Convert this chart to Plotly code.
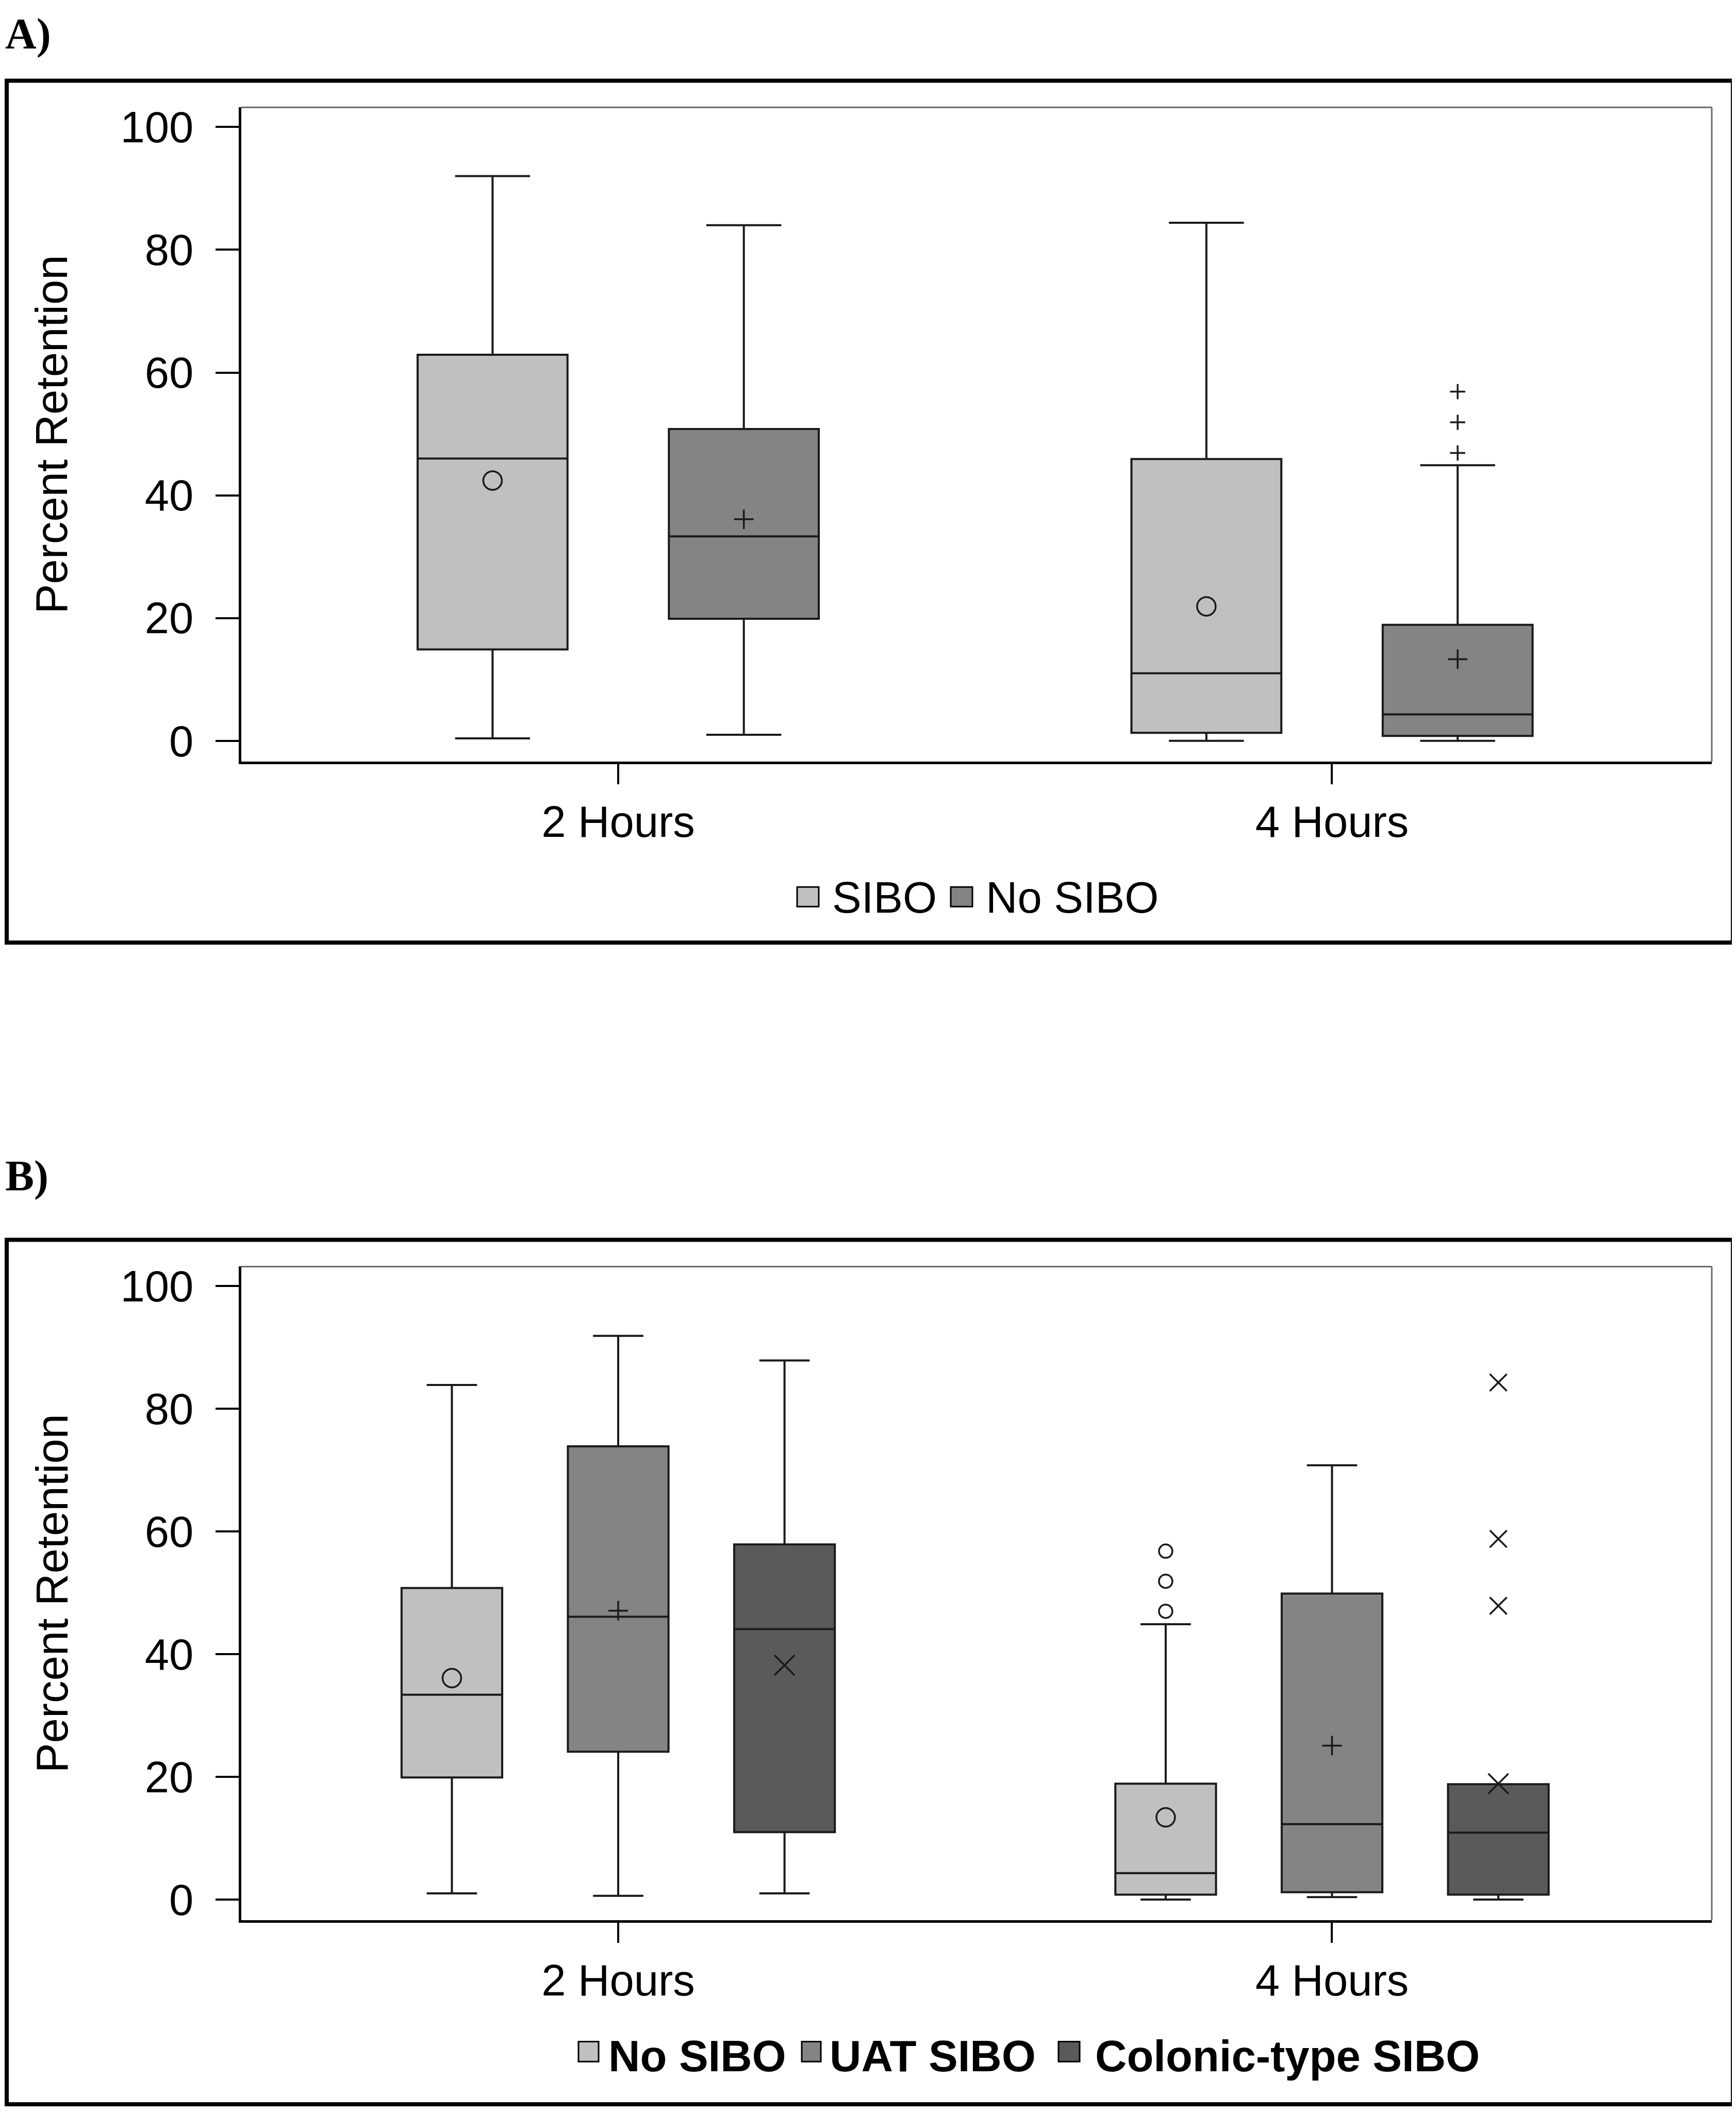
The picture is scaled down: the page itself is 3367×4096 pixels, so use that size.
import plotly.graph_objects as go

# page has the browser's default 8px body margin: shift everything by it
OFF = 8
WIN_W, WIN_H = 3367, 4096
W, H = WIN_W - OFF, WIN_H - OFF

# ---------------- data ----------------
categories = ["2 Hours", "4 Hours"]
yticks = [0, 20, 40, 60, 80, 100]

# Panel A : SIBO
A_SIBO_lower = [0.4, 0.0]
A_SIBO_q1 = [14.9, 1.3]
A_SIBO_median = [46.0, 11.0]
A_SIBO_q3 = [62.9, 45.9]
A_SIBO_upper = [92.0, 84.4]
A_SIBO_mean = [42.4, 21.9]
A_SIBO_outliers = [[], []]

# Panel A : No SIBO
A_NOSIBO_lower = [1.0, 0.0]
A_NOSIBO_q1 = [19.9, 0.8]
A_NOSIBO_median = [33.3, 4.3]
A_NOSIBO_q3 = [50.8, 18.9]
A_NOSIBO_upper = [84.0, 44.9]
A_NOSIBO_mean = [36.1, 13.3]
A_NOSIBO_outliers = [[], [56.9, 51.9, 46.9]]

# Panel B : No SIBO
B_NOSIBO_lower = [1.0, 0.0]
B_NOSIBO_q1 = [19.9, 0.8]
B_NOSIBO_median = [33.4, 4.3]
B_NOSIBO_q3 = [50.8, 18.9]
B_NOSIBO_upper = [83.9, 44.9]
B_NOSIBO_mean = [36.1, 13.4]
B_NOSIBO_outliers = [[], [56.8, 51.9, 47.0]]

# Panel B : UAT SIBO
B_UAT_lower = [0.6, 0.4]
B_UAT_q1 = [24.1, 1.2]
B_UAT_median = [46.1, 12.3]
B_UAT_q3 = [73.9, 49.9]
B_UAT_upper = [91.9, 70.8]
B_UAT_mean = [47.1, 25.1]
B_UAT_outliers = [[], []]

# Panel B : Colonic-type SIBO
B_COL_lower = [1.0, 0.0]
B_COL_q1 = [11.0, 0.8]
B_COL_median = [44.1, 10.9]
B_COL_q3 = [57.9, 18.8]
B_COL_upper = [87.9, 18.8]
B_COL_mean = [38.2, 18.9]
B_COL_outliers = [[], [84.3, 58.8, 47.9]]

# ---------------- styling ----------------
LIGHT = "#c0c0c0"
MID = "#848484"
DARK = "#5a5a5a"
LINE = "#1a1a1a"
FONT = "Arial, 'Liberation Sans', sans-serif"
SERIF = "'Liberation Serif', 'Times New Roman', serif"
FS = 85

cat_pos = [i + 1 for i in range(len(categories))]


def px_x(v):
    return (v - OFF) / W


def px_y(v):
    return 1 - (v - OFF) / H


fig = go.Figure()


def add_series(xa, ya, offset, width, fill, lower, q1, med, q3, upper, mean,
               outliers, mean_sym, mean_size, out_sym, out_size):
    xs = [p + offset for p in cat_pos]
    fig.add_trace(go.Box(
        x=xs, q1=q1, median=med, q3=q3, lowerfence=lower, upperfence=upper,
        width=width, whiskerwidth=0.5, fillcolor=fill,
        line=dict(color=LINE, width=4), boxpoints=False,
        xaxis=xa, yaxis=ya, hoverinfo="skip", showlegend=False))
    fig.add_trace(go.Scatter(
        x=xs, y=mean, mode="markers", xaxis=xa, yaxis=ya, showlegend=False,
        hoverinfo="skip",
        marker=dict(symbol=mean_sym, size=mean_size, color=LINE,
                    line=dict(color=LINE, width=3.5))))
    ox, oy = [], []
    for p, vals in zip(xs, outliers):
        for v in vals:
            ox.append(p)
            oy.append(v)
    if ox:
        fig.add_trace(go.Scatter(
            x=ox, y=oy, mode="markers", xaxis=xa, yaxis=ya, showlegend=False,
            hoverinfo="skip",
            marker=dict(symbol=out_sym, size=out_size, color=LINE,
                        line=dict(color=LINE, width=3.5))))


# Panel A
add_series("x", "y", -0.176, 0.21, LIGHT, A_SIBO_lower, A_SIBO_q1,
           A_SIBO_median, A_SIBO_q3, A_SIBO_upper, A_SIBO_mean,
           A_SIBO_outliers, "circle-open", 36, "circle-open", 26)
add_series("x", "y", 0.176, 0.21, MID, A_NOSIBO_lower, A_NOSIBO_q1,
           A_NOSIBO_median, A_NOSIBO_q3, A_NOSIBO_upper, A_NOSIBO_mean,
           A_NOSIBO_outliers, "cross-thin-open", 27, "cross-thin-open", 21)

# Panel B
add_series("x2", "y2", -0.233, 0.141, LIGHT, B_NOSIBO_lower, B_NOSIBO_q1,
           B_NOSIBO_median, B_NOSIBO_q3, B_NOSIBO_upper, B_NOSIBO_mean,
           B_NOSIBO_outliers, "circle-open", 36, "circle-open", 26)
add_series("x2", "y2", 0.0, 0.141, MID, B_UAT_lower, B_UAT_q1,
           B_UAT_median, B_UAT_q3, B_UAT_upper, B_UAT_mean,
           B_UAT_outliers, "cross-thin-open", 27, "cross-thin-open", 21)
add_series("x2", "y2", 0.233, 0.141, DARK, B_COL_lower, B_COL_q1,
           B_COL_median, B_COL_q3, B_COL_upper, B_COL_mean,
           B_COL_outliers, "x-thin-open", 39, "x-thin-open", 33)

# ---------------- axes ----------------
xcommon = dict(range=[0.472, 2.532], tickmode="array", tickvals=cat_pos,
               ticktext=categories, ticks="outside", ticklen=39, tickwidth=3.5,
               tickcolor="black", showline=True, linecolor="black",
               linewidth=4.5, showgrid=False, zeroline=False,
               tickfont=dict(size=FS, family=FONT, color="black"))
ycommon = dict(range=[-3.4, 103.2], tickmode="array", tickvals=yticks,
               ticks="outside", ticklen=45, tickwidth=3.5, tickcolor="black",
               showline=True, linecolor="black", linewidth=4.5, showgrid=False,
               zeroline=False, ticklabelstandoff=26,
               tickfont=dict(size=FS, family=FONT, color="black"))

xdom = [px_x(468), px_x(3320)]
fig.update_layout(
    width=W, height=H, margin=dict(l=0, r=0, t=0, b=0),
    paper_bgcolor="white", plot_bgcolor="white", showlegend=False,
    font=dict(family=FONT, size=FS, color="black"),
    xaxis=dict(domain=xdom, anchor="y", **xcommon),
    yaxis=dict(domain=[px_y(1474), px_y(200)], anchor="x", **ycommon),
    xaxis2=dict(domain=xdom, anchor="y2", **xcommon),
    yaxis2=dict(domain=[px_y(3730), px_y(2457)], anchor="x2", **ycommon),
)

shapes = []
annotations = []

# plot area top/right borders (gray)
for xr, yr in (("x domain", "y domain"), ("x2 domain", "y2 domain")):
    shapes.append(dict(type="line", xref=xr, yref=yr, x0=0, x1=1, y0=1, y1=1,
                       line=dict(color="#6a6a6a", width=3)))
    shapes.append(dict(type="line", xref=xr, yref=yr, x0=1, x1=1, y0=0, y1=1,
                       line=dict(color="#6a6a6a", width=3)))

# outer frames
for top, bot in ((148, 1826), (2405, 4088)):
    shapes.append(dict(type="rect", xref="paper", yref="paper",
                       x0=px_x(13), x1=px_x(3361), y0=px_y(bot), y1=px_y(top),
                       line=dict(color="black", width=8)))

# y-axis titles
for yc in ((200 + 1474) / 2, (2457 + 3730) / 2):
    annotations.append(dict(text="Percent Retention", xref="paper",
                            yref="paper", x=px_x(100), y=px_y(yc),
                            xanchor="center", yanchor="middle",
                            textangle=-90, showarrow=False,
                            font=dict(size=FS + 2, family=FONT, color="black")))

# panel labels
annotations.append(dict(text="<b>A)</b>", xref="paper", yref="paper",
                        x=0, y=1, xanchor="left", yanchor="top",
                        showarrow=False,
                        font=dict(size=84, family=SERIF, color="black")))
annotations.append(dict(text="<b>B)</b>", xref="paper", yref="paper",
                        x=0, y=px_y(2232), xanchor="left", yanchor="top",
                        showarrow=False,
                        font=dict(size=84, family=SERIF, color="black")))

# legends (manual)
legend_A = [("SIBO", LIGHT, 1546, 1588, 1612), ("No SIBO", MID, 1844, 1886, 1910)]
for name, col, sx0, sx1, tx in legend_A:
    shapes.append(dict(type="rect", xref="paper", yref="paper",
                       x0=px_x(sx0), x1=px_x(sx1), y0=px_y(1756), y1=px_y(1718),
                       fillcolor=col, line=dict(color="black", width=3)))
    annotations.append(dict(text=name, xref="paper", yref="paper",
                            x=px_x(tx), y=px_y(1738), xanchor="left",
                            yanchor="middle", showarrow=False,
                            font=dict(size=FS, family=FONT, color="black")))

legend_B = [("No SIBO", LIGHT, 1122, 1161, 1178),
            ("UAT SIBO", MID, 1555, 1592, 1607),
            ("Colonic-type SIBO", DARK, 2053, 2094, 2122)]
for name, col, sx0, sx1, tx in legend_B:
    shapes.append(dict(type="rect", xref="paper", yref="paper",
                       x0=px_x(sx0), x1=px_x(sx1), y0=px_y(4005), y1=px_y(3966),
                       fillcolor=col, line=dict(color="black", width=3)))
    annotations.append(dict(text="<b>" + name + "</b>", xref="paper",
                            yref="paper", x=px_x(tx), y=px_y(3994),
                            xanchor="left", yanchor="middle", showarrow=False,
                            font=dict(size=FS, family=FONT, color="black")))

fig.update_layout(shapes=shapes, annotations=annotations)
fig.write_html("out.html")
